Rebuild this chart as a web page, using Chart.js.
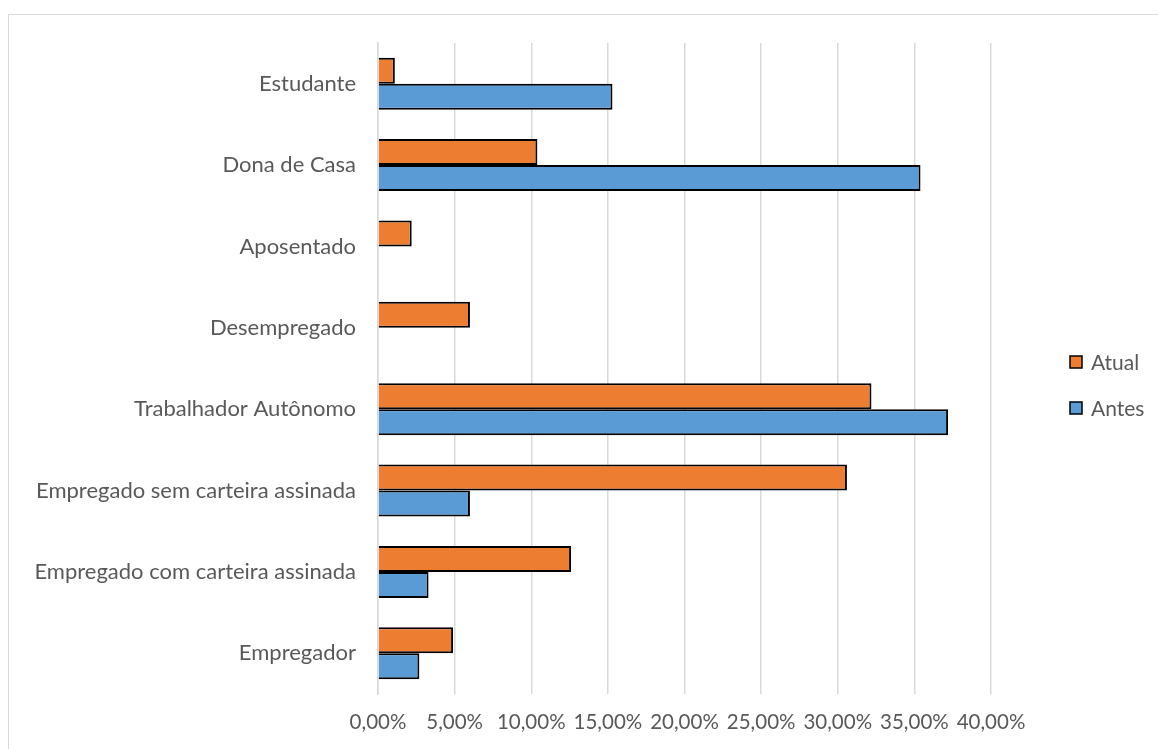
<!DOCTYPE html>
<html>
<head>
<meta charset="utf-8">
<script src="https://cdn.jsdelivr.net/npm/chart.js@4.4.1/dist/chart.umd.min.js"></script>
<style>
  html, body { margin: 0; padding: 0; background: #fff; overflow: hidden; }
  #wrap { position: relative; width: 1158px; height: 749px; }
  #frame {
    position: absolute; left: 8px; top: 14px; width: 1200px; height: 800px;
    border-top: 1.5px solid #d9d9d9; border-left: 1.5px solid #d9d9d9;
  }
  canvas { position: absolute; left: 0; top: 0; }
</style>
</head>
<body>
<div id="wrap">
  <div id="frame"></div>
  <canvas id="chart" width="1158" height="749"></canvas>
</div>
<script>
// categories, top to bottom
const categories = [
  "Estudante",
  "Dona de Casa",
  "Aposentado",
  "Desempregado",
  "Trabalhador Autônomo",
  "Empregado sem carteira assinada",
  "Empregado com carteira assinada",
  "Empregador"
];

// percent values
const atual = [1.1, 10.4, 2.2, 6.0, 32.2, 30.6, 12.6, 4.9];
const antes = [15.3, 35.4, 0, 0, 37.2, 6.0, 3.3, 2.7];

const xTicks = [0, 5, 10, 15, 20, 25, 30, 35, 40];

const FONT = "Lato";
const TEXT = "#595959";

// ================= LEGEND (drawn by hand, right side) =================
const sideLegend = {
  id: "sideLegend",
  afterDraw(chart) {
    const ctx = chart.ctx;
    const items = chart.data.datasets;
    ctx.save();
    ctx.font = "21px " + FONT;
    ctx.textBaseline = "middle";
    items.forEach((ds, i) => {
      const y = 362 + i * 46;
      ctx.fillStyle = ds.backgroundColor;
      ctx.fillRect(1070, y - 6, 12, 12);
      ctx.strokeStyle = "#000";
      ctx.lineWidth = 1.5;
      ctx.strokeRect(1070, y - 6, 12, 12);
      ctx.fillStyle = TEXT;
      ctx.fillText(ds.label, 1091, y + 1);
    });
    ctx.restore();
  }
};

const ctx = document.getElementById("chart").getContext("2d");

new Chart(ctx, {
  type: "bar",
  data: {
    labels: categories,
    datasets: [
      { label: "Atual", data: atual, backgroundColor: "#ED7D31", borderColor: "#000", borderWidth: 2, borderSkipped: "start" },
      { label: "Antes", data: antes, backgroundColor: "#5B9BD5", borderColor: "#000", borderWidth: 2, borderSkipped: "start" }
    ]
  },
  options: {
    indexAxis: "y",
    responsive: false,
    animation: false,
    categoryPercentage: 0.64,
    barPercentage: 1,
    layout: { padding: { left: 0, right: 167, top: 43, bottom: 15 } },
    plugins: {
      legend: { display: false },
      tooltip: { enabled: false }
    },
    scales: {
      x: {
        min: 0,
        max: 40,
        afterBuildTicks: (axis) => { axis.ticks = xTicks.map(v => ({ value: v })); },
        afterFit: (axis) => { axis.height = 40; },
        grid: { color: "#d9d9d9", lineWidth: 1.5, drawTicks: false },
        border: { display: false },
        ticks: {
          color: TEXT,
          font: { family: FONT, size: 20.5 },
          padding: 16,
          maxRotation: 0,
          autoSkip: false,
          callback: (v) => v.toFixed(2).replace(".", ",") + "%"
        }
      },
      y: {
        afterFit: (axis) => { axis.width = 378; },
        grid: { display: false, drawTicks: false },
        border: { display: true, color: "#d9d9d9", width: 1.5 },
        ticks: {
          color: TEXT,
          font: { family: FONT, size: 22 },
          padding: 22
        }
      }
    }
  },
  plugins: [sideLegend]
});
</script>
</body>
</html>
